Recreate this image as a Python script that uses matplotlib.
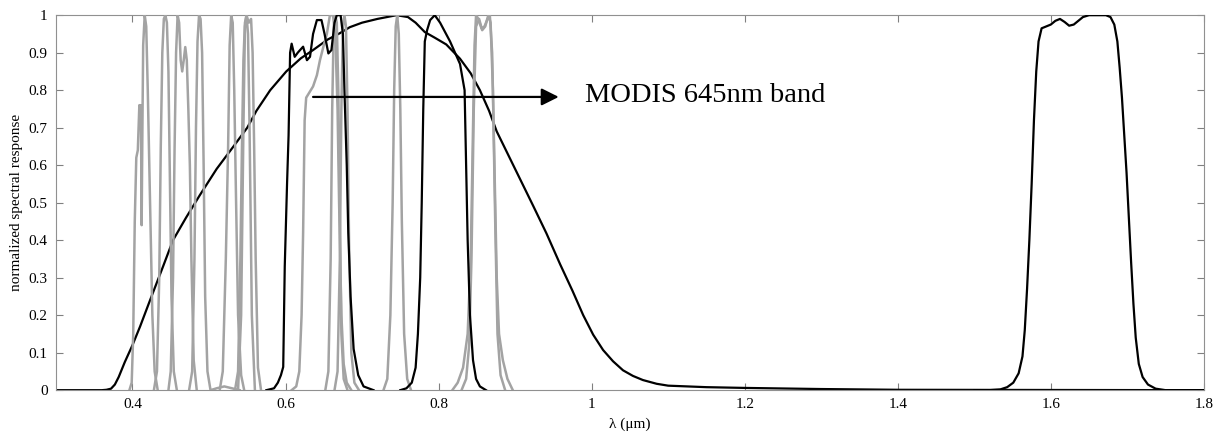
import numpy as np
import matplotlib
matplotlib.use("Agg")
from matplotlib import pyplot as plt
from matplotlib.ticker import FormatStrFormatter

plt.rcParams['font.family'] = ['Liberation Serif', 'DejaVu Serif']

# broad black response
wide_x = [0.30, 0.36, 0.366, 0.372, 0.377, 0.382, 0.39, 0.40, 0.41, 0.423, 0.44, 0.453, 0.47, 0.488,
          0.51, 0.532, 0.55, 0.562, 0.58, 0.601, 0.62, 0.636, 0.655, 0.671, 0.684, 0.70, 0.72, 0.745,
          0.76, 0.77, 0.782, 0.795, 0.81, 0.828, 0.842, 0.854, 0.866, 0.876, 0.888, 0.90, 0.912, 0.924,
          0.941, 0.959, 0.975, 0.989, 1.002, 1.015, 1.028, 1.041, 1.054, 1.067, 1.085, 1.10, 1.15,
          1.20, 1.30, 1.40, 1.80]
wide_y = [0, 0, 0.001, 0.004, 0.015, 0.035, 0.075, 0.12, 0.17, 0.24, 0.33, 0.40, 0.46, 0.52,
          0.59, 0.65, 0.70, 0.745, 0.80, 0.85, 0.885, 0.907, 0.935, 0.952, 0.968, 0.98, 0.99, 1.0,
          0.995, 0.98, 0.955, 0.94, 0.922, 0.884, 0.845, 0.80, 0.745, 0.69, 0.64, 0.59, 0.54, 0.49,
          0.418, 0.335, 0.265, 0.2, 0.148, 0.107, 0.077, 0.053, 0.038, 0.027, 0.017, 0.012, 0.008,
          0.006, 0.003, 0.001, 0]

# black narrow bands
b1_x = [0.575, 0.585, 0.59, 0.594, 0.597, 0.599, 0.602, 0.604, 0.606, 0.608, 0.612, 0.616, 0.619,
        0.623, 0.628, 0.632, 0.636, 0.641, 0.647, 0.651, 0.656, 0.660, 0.664, 0.667, 0.672, 0.675,
        0.677, 0.680, 0.682, 0.685, 0.689, 0.695, 0.702, 0.715]
b1_y = [0, 0.005, 0.02, 0.04, 0.062, 0.33, 0.55, 0.68, 0.9, 0.924, 0.889, 0.90, 0.907,
        0.916, 0.88, 0.889, 0.95, 0.987, 0.987, 0.95, 0.898, 0.907, 0.98, 1.0, 1.0, 0.95,
        0.8, 0.6, 0.42, 0.25, 0.11, 0.04, 0.01, 0]
b2_x = [0.750, 0.758, 0.765, 0.770, 0.773, 0.776, 0.778, 0.780, 0.782, 0.785, 0.789, 0.795, 0.802,
        0.815, 0.828, 0.834, 0.836, 0.838, 0.841, 0.845, 0.849, 0.854, 0.862]
b2_y = [0, 0.005, 0.02, 0.06, 0.15, 0.3, 0.5, 0.75, 0.93, 0.96, 0.987, 1.0, 0.98,
        0.93, 0.87, 0.8, 0.6, 0.4, 0.2, 0.08, 0.03, 0.01, 0]
b3_x = [1.50, 1.52, 1.534, 1.543, 1.551, 1.558, 1.563, 1.566, 1.569, 1.572, 1.575, 1.578, 1.581,
        1.584, 1.588, 1.594, 1.600, 1.606, 1.612, 1.618, 1.624, 1.630, 1.636, 1.642, 1.650, 1.660,
        1.672, 1.678, 1.683, 1.687, 1.690, 1.693, 1.696, 1.699, 1.702, 1.705, 1.708, 1.711, 1.715,
        1.720, 1.727, 1.737, 1.750, 1.80]
b3_y = [0, 0, 0.002, 0.008, 0.02, 0.045, 0.09, 0.16, 0.27, 0.4, 0.55, 0.72, 0.85,
        0.93, 0.965, 0.97, 0.975, 0.985, 0.99, 0.982, 0.972, 0.975, 0.985, 0.995, 1.0, 1.0,
        1.0, 0.995, 0.975, 0.93, 0.86, 0.78, 0.68, 0.58, 0.46, 0.34, 0.23, 0.14, 0.07,
        0.035, 0.015, 0.004, 0, 0]

# grey bands
g1_x = [0.396, 0.399, 0.401, 0.403, 0.405, 0.407, 0.409, 0.410, 0.411, 0.412, 0.413, 0.414, 0.416,
        0.418, 0.420, 0.423, 0.426, 0.429, 0.433]
g1_y = [0, 0.02, 0.15, 0.45, 0.62, 0.64, 0.76, 0.74, 0.76, 0.44, 0.70, 0.92, 1.0,
        0.97, 0.8, 0.5, 0.2, 0.05, 0]
g2_x = [0.428, 0.432, 0.435, 0.437, 0.439, 0.441, 0.443, 0.445, 0.447, 0.449, 0.451, 0.454, 0.458]
g2_y = [0, 0.05, 0.3, 0.65, 0.9, 0.99, 1.0, 0.98, 0.85, 0.55, 0.25, 0.05, 0]
g3_x = [0.447, 0.450, 0.453, 0.455, 0.457, 0.459, 0.461, 0.463, 0.465, 0.467, 0.469, 0.471, 0.473,
        0.475, 0.477, 0.480, 0.484]
g3_y = [0, 0.05, 0.3, 0.64, 0.9, 1.0, 0.98, 0.88, 0.85, 0.88, 0.915, 0.88, 0.75,
        0.6, 0.35, 0.08, 0]
g4_x = [0.474, 0.478, 0.481, 0.483, 0.485, 0.487, 0.489, 0.491, 0.493, 0.495, 0.498, 0.502,
        0.51, 0.52, 0.53, 0.54]
g4_y = [0, 0.05, 0.35, 0.7, 0.93, 1.0, 0.99, 0.9, 0.6, 0.25, 0.05, 0,
        0.005, 0.01, 0.005, 0]
g5_x = [0.514, 0.518, 0.522, 0.525, 0.527, 0.529, 0.531, 0.533, 0.535, 0.538, 0.542, 0.546]
g5_y = [0, 0.05, 0.35, 0.65, 0.92, 1.0, 0.98, 0.8, 0.55, 0.2, 0.04, 0]
g6_x = [0.534, 0.538, 0.541, 0.543, 0.545, 0.547, 0.549, 0.552, 0.555, 0.557, 0.559, 0.561, 0.564, 0.568]
g6_y = [0, 0.05, 0.35, 0.64, 0.88, 0.98, 1.0, 0.98, 0.99, 0.9, 0.65, 0.35, 0.06, 0]
g7_x = [0.538, 0.542, 0.545, 0.547, 0.549, 0.551, 0.553, 0.556, 0.560]
g7_y = [0, 0.2, 0.7, 0.97, 1.0, 0.95, 0.7, 0.2, 0]
g8_x = [0.608, 0.614, 0.618, 0.621, 0.623, 0.625, 0.627, 0.630, 0.636, 0.641, 0.645, 0.650, 0.654,
        0.658, 0.662, 0.665, 0.668, 0.670, 0.673, 0.676, 0.680, 0.686]
g8_y = [0, 0.01, 0.05, 0.2, 0.42, 0.72, 0.78, 0.79, 0.81, 0.84, 0.88, 0.92, 0.95,
        1.0, 1.0, 0.95, 0.75, 0.5, 0.2, 0.07, 0.02, 0]
g9_x = [0.652, 0.656, 0.659, 0.661, 0.663, 0.665, 0.667, 0.669, 0.671, 0.673, 0.676, 0.681]
g9_y = [0, 0.05, 0.35, 0.75, 0.97, 1.0, 0.98, 0.8, 0.45, 0.15, 0.03, 0]
g10_x = [0.664, 0.668, 0.671, 0.673, 0.675, 0.677, 0.679, 0.681, 0.683, 0.686, 0.69, 0.696]
g10_y = [0, 0.05, 0.35, 0.75, 0.97, 1.0, 0.97, 0.75, 0.4, 0.1, 0.02, 0]
g11_x = [0.728, 0.733, 0.737, 0.740, 0.742, 0.744, 0.746, 0.748, 0.750, 0.752, 0.755, 0.759, 0.764]
g11_y = [0, 0.03, 0.2, 0.5, 0.8, 0.97, 1.0, 0.95, 0.75, 0.45, 0.15, 0.03, 0]
g12_x = [0.818, 0.825, 0.832, 0.838, 0.842, 0.845, 0.847, 0.849, 0.852, 0.856, 0.860, 0.864, 0.867,
         0.870, 0.873, 0.876, 0.879, 0.884, 0.890, 0.897]
g12_y = [0, 0.02, 0.06, 0.15, 0.35, 0.7, 0.92, 1.0, 0.99, 0.965, 0.97, 0.99, 1.0,
         0.9, 0.6, 0.3, 0.15, 0.08, 0.03, 0]
g13_x = [0.830, 0.836, 0.840, 0.843, 0.846, 0.849, 0.853, 0.857, 0.861, 0.865, 0.868, 0.871, 0.874,
         0.877, 0.881, 0.887]
g13_y = [0, 0.03, 0.12, 0.35, 0.75, 0.97, 0.99, 0.96, 0.97, 1.0, 0.98, 0.8, 0.45,
         0.15, 0.04, 0]

grey_bands = [(g1_x, g1_y), (g2_x, g2_y), (g3_x, g3_y), (g4_x, g4_y), (g5_x, g5_y), (g6_x, g6_y),
              (g7_x, g7_y), (g8_x, g8_y), (g9_x, g9_y), (g10_x, g10_y), (g11_x, g11_y),
              (g12_x, g12_y), (g13_x, g13_y)]
black_bands = [(b1_x, b1_y), (b2_x, b2_y), (b3_x, b3_y)]

fig = plt.figure(figsize=(12.16, 4.34), dpi=100)
ax = fig.add_axes([0.046, 0.101, 0.944, 0.864])

ax.plot(wide_x, wide_y, color='black', lw=1.6, zorder=2)
for gx, gy in grey_bands:
    ax.plot(gx, gy, color='#a3a3a3', lw=1.8, zorder=3)
for bx, by in black_bands:
    ax.plot(bx, by, color='black', lw=1.6, zorder=4)

ax.annotate('', xy=(0.957, 0.782), xytext=(0.636, 0.782),
            arrowprops=dict(arrowstyle='-|>', color='black', lw=1.6, mutation_scale=26,
                            shrinkA=0, shrinkB=0), zorder=6)
ax.text(0.991, 0.785, 'MODIS 645nm band', fontsize=20.5, va='center', ha='left', zorder=6,
        bbox=dict(facecolor='white', edgecolor='none', pad=8))

ax.set_xlim(0.3, 1.8)
ax.set_ylim(0, 1)
ax.set_xticks([0.4, 0.6, 0.8, 1.0, 1.2, 1.4, 1.6, 1.8])
ax.set_yticks(np.arange(0, 11) / 10)
ax.xaxis.set_major_formatter(FormatStrFormatter('%g'))
ax.yaxis.set_major_formatter(FormatStrFormatter('%g'))
ax.tick_params(direction='in', length=5, color='#808080', labelsize=11,
               top=True, right=True, pad=6)
for s in ax.spines.values():
    s.set_color('#909090')
ax.set_xlabel('λ (μm)', fontsize=11, labelpad=4)
ax.set_ylabel('normalized spectral response', fontsize=11, labelpad=4)

fig.savefig('out.png', dpi=100)
